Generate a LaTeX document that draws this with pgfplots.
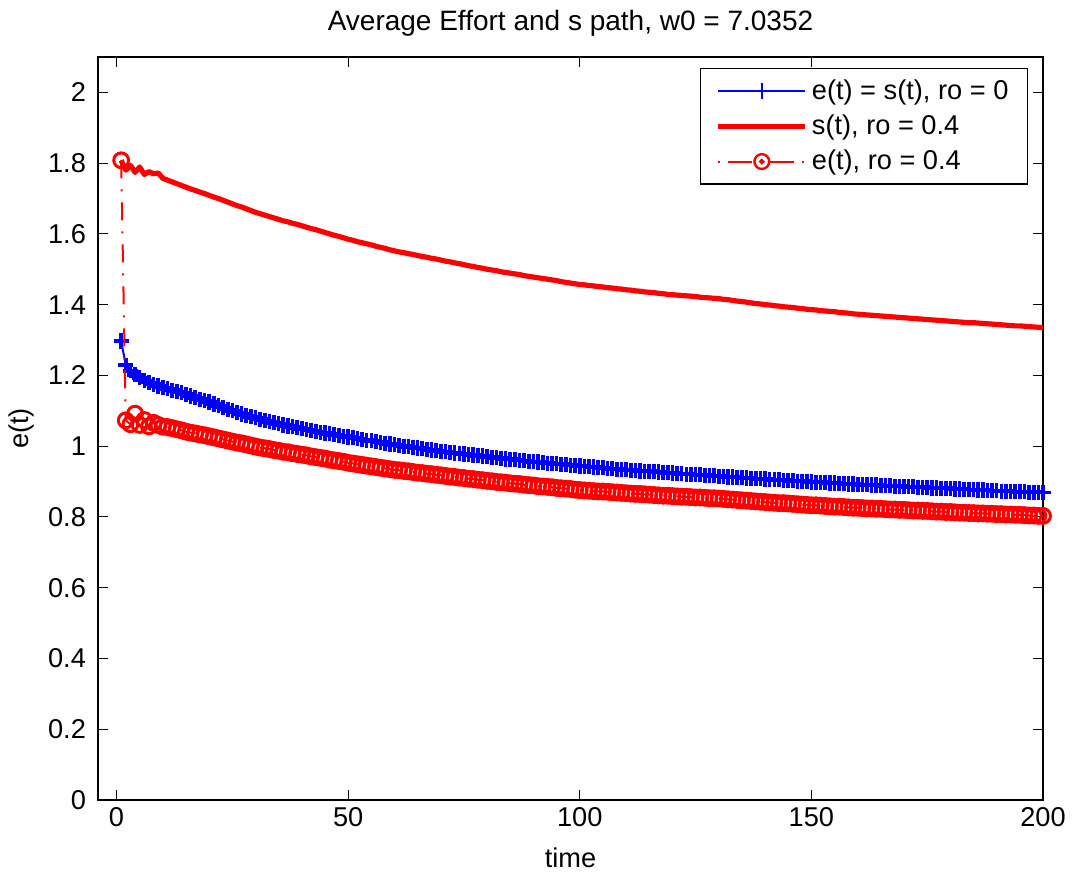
\documentclass[border=0pt]{standalone}
\usepackage{fontspec}
\setmainfont{Liberation Sans}
\usepackage{pgfplots}
\usepackage{pgfplotstable}
\pgfplotsset{compat=1.18}

% t, e(t)=s(t) ro=0, s(t) ro=0.4, e(t) ro=0.4
\pgfplotstableread{
t b s e
1 1.297 1.808 1.808
2 1.229 1.780 1.073
3 1.213 1.794 1.062
4 1.202 1.774 1.092
5 1.193 1.789 1.060
6 1.186 1.768 1.074
7 1.180 1.776 1.056
8 1.175 1.770 1.066
9 1.170 1.772 1.060
10 1.166 1.757 1.055
11 1.162 1.752 1.054
12 1.158 1.747 1.051
13 1.155 1.742 1.048
14 1.152 1.737 1.045
15 1.147 1.732 1.041
16 1.142 1.727 1.038
17 1.137 1.723 1.036
18 1.133 1.718 1.033
19 1.129 1.714 1.031
20 1.125 1.709 1.028
21 1.119 1.704 1.025
22 1.114 1.700 1.022
23 1.109 1.695 1.019
24 1.104 1.690 1.016
25 1.100 1.685 1.013
26 1.095 1.680 1.010
27 1.091 1.676 1.008
28 1.087 1.671 1.005
29 1.083 1.666 1.002
30 1.080 1.661 0.999
31 1.076 1.657 0.996
32 1.073 1.653 0.994
33 1.069 1.649 0.992
34 1.066 1.645 0.989
35 1.063 1.641 0.987
36 1.060 1.637 0.984
37 1.057 1.634 0.983
38 1.055 1.630 0.980
39 1.052 1.627 0.978
40 1.049 1.623 0.976
41 1.047 1.619 0.974
42 1.044 1.615 0.971
43 1.042 1.612 0.969
44 1.039 1.608 0.967
45 1.037 1.604 0.965
46 1.035 1.600 0.962
47 1.032 1.596 0.960
48 1.030 1.593 0.958
49 1.028 1.589 0.956
50 1.026 1.585 0.953
51 1.024 1.582 0.951
52 1.022 1.578 0.949
53 1.019 1.575 0.947
54 1.017 1.572 0.945
55 1.015 1.569 0.943
56 1.013 1.565 0.941
57 1.011 1.562 0.939
58 1.008 1.559 0.937
59 1.006 1.555 0.935
60 1.004 1.552 0.933
61 1.002 1.549 0.932
62 1.000 1.547 0.930
63 0.998 1.544 0.929
64 0.996 1.542 0.927
65 0.995 1.539 0.925
66 0.993 1.536 0.924
67 0.991 1.534 0.922
68 0.989 1.531 0.921
69 0.987 1.529 0.919
70 0.985 1.526 0.918
71 0.984 1.523 0.916
72 0.982 1.521 0.914
73 0.981 1.518 0.913
74 0.979 1.516 0.911
75 0.978 1.513 0.910
76 0.976 1.510 0.908
77 0.975 1.508 0.907
78 0.973 1.505 0.905
79 0.972 1.503 0.904
80 0.970 1.500 0.902
81 0.969 1.498 0.901
82 0.967 1.496 0.899
83 0.966 1.493 0.898
84 0.964 1.491 0.897
85 0.963 1.489 0.895
86 0.962 1.487 0.894
87 0.960 1.485 0.893
88 0.959 1.482 0.891
89 0.957 1.480 0.890
90 0.956 1.478 0.889
91 0.955 1.476 0.887
92 0.954 1.474 0.886
93 0.952 1.472 0.885
94 0.951 1.470 0.884
95 0.950 1.468 0.882
96 0.949 1.465 0.881
97 0.948 1.463 0.880
98 0.946 1.461 0.879
99 0.945 1.459 0.877
100 0.944 1.457 0.876
101 0.943 1.456 0.875
102 0.942 1.454 0.874
103 0.941 1.453 0.873
104 0.940 1.451 0.872
105 0.939 1.450 0.872
106 0.937 1.448 0.871
107 0.936 1.447 0.870
108 0.935 1.445 0.869
109 0.934 1.444 0.868
110 0.933 1.442 0.867
111 0.932 1.441 0.866
112 0.931 1.439 0.865
113 0.930 1.438 0.865
114 0.929 1.436 0.864
115 0.929 1.435 0.863
116 0.928 1.434 0.862
117 0.927 1.432 0.861
118 0.926 1.431 0.860
119 0.925 1.429 0.860
120 0.924 1.428 0.859
121 0.923 1.427 0.858
122 0.922 1.426 0.857
123 0.921 1.425 0.857
124 0.920 1.424 0.856
125 0.920 1.423 0.855
126 0.919 1.421 0.855
127 0.918 1.420 0.854
128 0.917 1.419 0.853
129 0.916 1.418 0.853
130 0.915 1.417 0.852
131 0.914 1.415 0.851
132 0.913 1.414 0.850
133 0.913 1.412 0.849
134 0.912 1.410 0.848
135 0.911 1.409 0.847
136 0.910 1.407 0.846
137 0.909 1.405 0.845
138 0.909 1.403 0.844
139 0.908 1.402 0.843
140 0.907 1.400 0.842
141 0.906 1.399 0.841
142 0.905 1.397 0.840
143 0.905 1.396 0.839
144 0.904 1.394 0.839
145 0.903 1.393 0.838
146 0.902 1.392 0.837
147 0.901 1.390 0.836
148 0.901 1.389 0.835
149 0.900 1.387 0.834
150 0.899 1.386 0.833
151 0.898 1.385 0.833
152 0.898 1.383 0.832
153 0.897 1.382 0.831
154 0.896 1.381 0.830
155 0.896 1.380 0.829
156 0.895 1.378 0.829
157 0.894 1.377 0.828
158 0.893 1.376 0.827
159 0.893 1.374 0.826
160 0.892 1.373 0.826
161 0.891 1.372 0.825
162 0.891 1.371 0.824
163 0.890 1.370 0.824
164 0.890 1.369 0.823
165 0.889 1.368 0.823
166 0.888 1.367 0.822
167 0.888 1.366 0.821
168 0.887 1.365 0.821
169 0.887 1.364 0.820
170 0.886 1.363 0.820
171 0.885 1.362 0.819
172 0.885 1.361 0.818
173 0.884 1.360 0.818
174 0.884 1.359 0.817
175 0.883 1.358 0.817
176 0.882 1.357 0.816
177 0.882 1.356 0.815
178 0.881 1.355 0.815
179 0.881 1.354 0.814
180 0.880 1.353 0.814
181 0.879 1.352 0.813
182 0.879 1.351 0.812
183 0.878 1.350 0.812
184 0.878 1.349 0.811
185 0.877 1.349 0.811
186 0.876 1.348 0.810
187 0.876 1.347 0.810
188 0.875 1.346 0.809
189 0.875 1.345 0.809
190 0.874 1.344 0.808
191 0.873 1.343 0.808
192 0.873 1.342 0.807
193 0.872 1.341 0.807
194 0.872 1.340 0.806
195 0.871 1.340 0.806
196 0.871 1.339 0.805
197 0.870 1.338 0.804
198 0.870 1.337 0.804
199 0.869 1.336 0.803
200 0.869 1.335 0.803
}\paths

\begin{document}
\begin{tikzpicture}
\begin{axis}[at={(0,0)},anchor=south west,
  scale only axis,width=472.5pt,height=371.5pt,
  xmin=-4,xmax=200,ymin=0,ymax=2.1,
  xtick={0,50,100,150,200},
  ytick={0,0.2,0.4,0.6,0.8,1,1.2,1.4,1.6,1.8,2},
  tick align=inside,major tick length=5pt,
  tick style={black,line width=0.5pt},
  axis line style={line width=0.75pt},
  /pgf/number format/assume math mode=true,
  yticklabel style={/pgf/number format/fixed,/pgf/number format/precision=1,xshift=-2.5pt},
  tick label style={font=\fontsize{13.6}{16}\selectfont},
  label style={font=\fontsize{13.6}{16}\selectfont},
  xlabel style={yshift=-4pt},
  title style={font=\fontsize{14}{17}\selectfont,yshift=1pt},
  title={Average Effort and s path, w0 = 7.0352},
  xlabel={time},ylabel={e(t)},
  clip mode=individual,
  legend cell align=left,
  legend style={at={(1,1)},anchor=north east,xshift=-7.5pt,yshift=-5.5pt,
    font=\fontsize{13.6}{16}\selectfont,draw=black,line width=0.6pt,
    row sep=2.3pt,inner xsep=7.5pt,inner ysep=3.5pt},
  legend image code/.code={\draw (0pt,0pt) -- (43.5pt,0pt);},
  ]
\addplot[blue,line width=1pt,mark=+,mark size=3.8pt,
  mark options={line width=1.8pt},
  legend image code/.code={
    \draw[line width=1pt] (0pt,0pt) -- (43.5pt,0pt);
    \draw[line width=1.1pt] (21.75pt,-3.8pt) -- (21.75pt,3.8pt);}]
  table[x=t,y=b] {\paths};
\addlegendentry{e(t) = s(t), ro = 0}
\addplot[red,line width=2.6pt,line join=round] table[x=t,y=s] {\paths};
\addlegendentry{s(t), ro = 0.4}
\addplot[red,line width=1pt,dash pattern=on 9pt off 5.5pt on 1pt off 5.5pt,
  mark=o,mark size=3.7pt,mark options={solid,line width=1.5pt},
  legend image code/.code={
    \draw[dash pattern=on 1pt off 4pt on 12pt off 4pt]
      (0pt,0pt) -- (43.5pt,0pt);
    \draw[solid,line width=1.2pt] (21.75pt,0pt) circle (3.7pt);
    \fill[solid] (21.75pt,0pt) circle (0.9pt);}]
  table[x=t,y=e] {\paths};
\addlegendentry{e(t), ro = 0.4}
\end{axis}
\pgfresetboundingbox
\path[use as bounding box] (-49pt,-38pt) rectangle (487pt,400pt);
\end{tikzpicture}
\end{document}
